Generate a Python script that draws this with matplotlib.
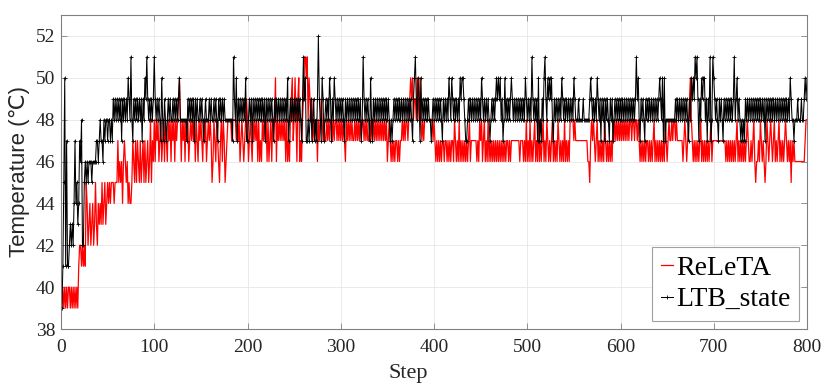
import numpy as np
import matplotlib
matplotlib.use("Agg")
import matplotlib.pyplot as plt


# ---------- data (one value per step) ----------

releta_001_200 = [
    39, 40, 39, 40, 39, 40, 39, 40, 40, 39, 40, 39, 40, 39, 40, 39, 40, 39, 41, 42,
    42, 41, 42, 41, 42, 41, 45, 44, 42, 43, 44, 42, 43, 44, 42, 43, 45, 43, 42, 44,
    43, 44, 43, 45, 43, 44, 45, 43, 44, 45, 44, 45, 44, 45, 45, 45, 44, 45, 45, 45,
    47, 45, 46, 45, 46, 44, 46, 47, 46, 45, 46, 44, 45, 44, 44, 45, 47, 46, 45, 47,
    45, 47, 46, 45, 47, 45, 46, 47, 45, 47, 45, 46, 47, 45, 46, 48, 45, 47, 46, 48,
    46, 48, 47, 48, 46, 47, 48, 46, 47, 48, 46, 48, 47, 46, 48, 47, 48, 46, 48, 47,
    48, 46, 48, 47, 48, 49, 50, 48, 46, 48, 47, 48, 46, 48, 47, 48, 46, 47, 48, 47,
    48, 47, 48, 46, 48, 47, 46, 48, 47, 48, 47, 46, 48, 47, 48, 46, 47, 48, 47, 48,
    47, 45, 46, 48, 47, 46, 48, 47, 46, 45, 47, 48, 46, 48, 47, 45, 46, 47, 48, 48,
    48, 48, 47, 48, 48, 48, 48, 47, 48, 47, 48, 46, 47, 48, 47, 46, 47, 48, 49, 48,
]
releta_201_400 = [
    46, 47, 48, 47, 46, 48, 47, 48, 47, 48, 46, 48, 46, 47, 46, 48, 47, 48, 47, 48,
    46, 48, 46, 47, 48, 46, 48, 47, 48, 50, 46, 48, 47, 48, 47, 48, 47, 48, 47, 48,
    46, 48, 46, 47, 46, 48, 49, 50, 47, 48, 50, 48, 46, 49, 50, 46, 47, 46, 48, 49,
    51, 51, 50, 51, 48, 50, 49, 48, 49, 47, 48, 47, 48, 48, 46, 48, 47, 48, 49, 48,
    47, 48, 47, 47, 48, 47, 48, 47, 48, 48, 47, 48, 47, 48, 48, 47, 48, 47, 48, 47,
    48, 47, 48, 47, 46, 48, 47, 48, 47, 48, 47, 48, 47, 47, 48, 47, 48, 47, 48, 47,
    48, 47, 48, 48, 47, 48, 47, 48, 47, 47, 48, 47, 48, 47, 48, 47, 48, 47, 48, 47,
    48, 47, 48, 47, 48, 47, 48, 47, 48, 46, 47, 48, 47, 46, 47, 46, 47, 46, 47, 47,
    46, 47, 46, 47, 47, 48, 47, 48, 47, 48, 48, 47, 48, 49, 50, 49, 50, 48, 49, 49,
    48, 50, 49, 48, 50, 48, 47, 48, 47, 48, 48, 48, 48, 48, 48, 48, 48, 48, 47, 48,
]
releta_401_600 = [
    47, 46, 47, 46, 47, 46, 47, 46, 47, 47, 46, 47, 47, 46, 47, 46, 47, 46, 47, 47,
    46, 48, 47, 46, 47, 46, 48, 46, 47, 46, 47, 46, 47, 46, 47, 46, 47, 48, 46, 47,
    47, 47, 47, 47, 47, 46, 47, 46, 48, 47, 48, 46, 47, 48, 46, 47, 46, 48, 46, 47,
    46, 47, 46, 47, 46, 47, 46, 47, 46, 47, 46, 47, 46, 47, 46, 47, 46, 47, 47, 46,
    47, 46, 47, 47, 47, 47, 47, 47, 47, 47, 47, 46, 47, 47, 47, 46, 47, 46, 48, 46,
    47, 46, 48, 46, 47, 46, 47, 48, 46, 47, 46, 48, 46, 47, 46, 47, 48, 46, 47, 46,
    48, 47, 46, 47, 46, 47, 48, 46, 47, 46, 47, 46, 48, 47, 46, 47, 46, 47, 46, 48,
    46, 47, 46, 47, 46, 48, 48, 48, 48, 47, 48, 47, 47, 47, 47, 47, 47, 47, 47, 47,
    47, 47, 47, 47, 46, 46, 45, 47, 48, 47, 48, 47, 46, 47, 48, 46, 47, 46, 47, 46,
    47, 46, 48, 47, 46, 47, 46, 47, 46, 47, 46, 48, 47, 48, 47, 48, 47, 48, 47, 48,
]
releta_601_800 = [
    47, 48, 47, 48, 47, 48, 47, 48, 47, 48, 48, 47, 48, 48, 47, 48, 48, 47, 48, 47,
    46, 47, 46, 47, 46, 47, 46, 47, 47, 46, 47, 46, 47, 46, 47, 48, 46, 47, 46, 47,
    46, 47, 46, 47, 46, 47, 46, 48, 47, 46, 47, 48, 47, 47, 48, 47, 48, 48, 47, 48,
    47, 47, 47, 47, 47, 47, 46, 47, 48, 47, 46, 47, 48, 49, 50, 48, 47, 46, 47, 46,
    47, 46, 47, 46, 47, 48, 46, 47, 46, 47, 46, 47, 46, 47, 46, 47, 48, 46, 47, 47,
    47, 47, 47, 47, 47, 47, 47, 47, 47, 47, 47, 47, 46, 47, 46, 47, 46, 47, 46, 47,
    46, 47, 46, 47, 48, 46, 47, 46, 47, 46, 47, 46, 47, 46, 47, 48, 47, 46, 46, 47,
    46, 47, 48, 46, 45, 46, 46, 47, 46, 48, 47, 46, 47, 46, 45, 46, 48, 47, 46, 47,
    48, 47, 46, 47, 48, 46, 47, 46, 47, 48, 46, 47, 46, 47, 46, 47, 48, 47, 46, 47,
    46, 47, 45, 47, 46, 47, 46, 46, 46, 46, 46, 46, 46, 46, 46, 46, 46, 47, 48, 48,
]

ltb_001_200 = [
    39, 41, 45, 50, 41, 47, 41, 41, 42, 43, 42, 43, 42, 44, 47, 44, 45, 43, 44, 47,
    46, 48, 42, 42, 45, 46, 45, 46, 45, 46, 46, 46, 45, 46, 46, 46, 46, 47, 47, 46,
    47, 48, 47, 47, 46, 48, 47, 48, 48, 47, 48, 48, 47, 48, 47, 49, 48, 49, 48, 49,
    48, 49, 48, 49, 47, 49, 48, 49, 48, 49, 48, 50, 49, 48, 51, 48, 47, 49, 48, 49,
    48, 49, 48, 49, 48, 49, 47, 49, 48, 50, 49, 51, 49, 48, 49, 48, 49, 48, 49, 51,
    49, 48, 49, 48, 49, 48, 47, 50, 48, 47, 49, 48, 47, 48, 49, 48, 49, 48, 48, 49,
    48, 49, 48, 49, 48, 49, 50, 48, 48, 48, 48, 48, 48, 48, 47, 49, 48, 49, 48, 49,
    48, 49, 47, 49, 48, 49, 48, 48, 49, 48, 49, 48, 47, 48, 49, 48, 48, 48, 49, 48,
    49, 48, 48, 49, 48, 49, 48, 47, 49, 48, 49, 48, 49, 48, 49, 48, 48, 48, 48, 48,
    48, 48, 48, 47, 51, 49, 48, 50, 47, 49, 48, 49, 48, 49, 48, 49, 48, 50, 47, 47,
]
ltb_201_400 = [
    48, 49, 48, 49, 47, 49, 48, 49, 48, 49, 48, 49, 48, 49, 48, 49, 48, 49, 47, 49,
    48, 49, 48, 49, 48, 49, 48, 47, 49, 48, 49, 48, 49, 48, 49, 48, 49, 48, 49, 48,
    49, 48, 50, 47, 48, 49, 48, 49, 48, 49, 48, 49, 48, 49, 48, 49, 48, 47, 49, 51,
    49, 50, 47, 47, 48, 47, 48, 49, 47, 48, 49, 47, 48, 47, 49, 52, 49, 48, 47, 50,
    49, 47, 48, 49, 48, 49, 48, 50, 49, 47, 49, 48, 50, 49, 48, 49, 48, 49, 48, 49,
    48, 49, 48, 47, 49, 48, 49, 48, 49, 48, 49, 48, 49, 48, 49, 48, 49, 48, 49, 48,
    49, 47, 48, 51, 49, 48, 49, 48, 49, 48, 47, 50, 48, 47, 49, 48, 49, 48, 49, 48,
    49, 48, 49, 48, 49, 48, 49, 48, 49, 48, 49, 48, 47, 48, 47, 48, 49, 48, 49, 48,
    49, 48, 49, 48, 49, 48, 49, 48, 49, 48, 49, 48, 49, 48, 49, 48, 47, 49, 50, 51,
    49, 48, 50, 49, 47, 50, 48, 49, 48, 49, 48, 49, 48, 49, 48, 48, 47, 48, 49, 48,
]
ltb_401_600 = [
    49, 48, 49, 48, 49, 48, 49, 48, 47, 49, 48, 49, 48, 49, 48, 50, 49, 48, 50, 49,
    48, 49, 48, 49, 48, 49, 48, 50, 49, 50, 50, 49, 48, 47, 47, 48, 49, 48, 49, 48,
    49, 48, 49, 48, 49, 48, 49, 48, 49, 48, 50, 49, 48, 49, 48, 49, 48, 49, 48, 47,
    48, 49, 48, 49, 48, 49, 50, 49, 50, 49, 50, 48, 49, 47, 48, 50, 48, 49, 48, 49,
    48, 49, 50, 49, 48, 49, 48, 49, 48, 49, 48, 49, 48, 49, 48, 49, 48, 50, 49, 48,
    49, 48, 49, 48, 51, 49, 48, 49, 48, 49, 47, 50, 47, 48, 47, 49, 48, 50, 51, 49,
    48, 50, 49, 50, 49, 50, 48, 47, 49, 48, 49, 48, 49, 48, 49, 48, 50, 49, 48, 49,
    48, 49, 48, 49, 48, 49, 48, 49, 48, 50, 49, 48, 48, 48, 49, 48, 48, 48, 48, 49,
    48, 48, 48, 48, 48, 48, 49, 50, 49, 48, 49, 48, 49, 48, 50, 49, 48, 49, 47, 49,
    48, 49, 47, 49, 48, 49, 48, 47, 49, 48, 49, 47, 48, 49, 48, 49, 48, 49, 48, 49,
]
ltb_601_800 = [
    48, 49, 48, 49, 48, 49, 48, 49, 48, 49, 48, 49, 48, 49, 48, 49, 51, 49, 50, 48,
    47, 49, 48, 49, 48, 47, 49, 48, 49, 48, 49, 48, 49, 48, 49, 48, 49, 48, 49, 48,
    49, 50, 49, 48, 50, 47, 50, 47, 48, 48, 48, 48, 48, 48, 48, 48, 48, 48, 49, 48,
    49, 48, 49, 48, 49, 48, 49, 48, 49, 48, 49, 48, 47, 49, 48, 50, 49, 50, 49, 51,
    50, 51, 49, 47, 49, 48, 50, 49, 50, 50, 48, 49, 47, 49, 48, 51, 47, 48, 51, 50,
    49, 48, 49, 48, 47, 49, 48, 49, 48, 47, 49, 48, 49, 48, 49, 48, 49, 48, 49, 48,
    49, 51, 48, 49, 50, 48, 49, 48, 47, 48, 47, 48, 47, 49, 48, 49, 48, 49, 48, 49,
    48, 49, 48, 49, 48, 49, 48, 49, 48, 49, 48, 49, 48, 49, 47, 49, 48, 49, 48, 49,
    48, 49, 48, 49, 48, 49, 48, 49, 48, 49, 48, 49, 48, 49, 48, 49, 48, 49, 48, 49,
    48, 50, 49, 48, 48, 47, 48, 48, 48, 49, 48, 48, 48, 49, 48, 48, 49, 50, 49, 50,
]

releta = releta_001_200 + releta_201_400 + releta_401_600 + releta_601_800
ltb_state = ltb_001_200 + ltb_201_400 + ltb_401_600 + ltb_601_800

x_ticks = [0, 100, 200, 300, 400, 500, 600, 700, 800]
y_ticks = [38, 40, 42, 44, 46, 48, 50, 52]


# ---------- plotting ----------

serif = ["Liberation Serif", "DejaVu Serif"]
sans = ["Liberation Sans", "DejaVu Sans"]
ink = "#262626"

fig = plt.figure(figsize=(8.3, 3.85), dpi=100)
ax = fig.add_axes([61 / 830, 1 - 329 / 385, (807 - 61) / 830, (329 - 15) / 385])

steps_r = np.arange(1, len(releta) + 1)
steps_b = np.arange(1, len(ltb_state) + 1)
ax.plot(steps_r, releta, color="red", lw=0.9, label="ReLeTA")
ax.plot(steps_b, ltb_state, color="black", lw=0.75, marker="+",
        markersize=2.2, markeredgewidth=0.6, label="LTB_state")

ax.set_xlim(0, 800)
ax.set_ylim(38, 53)
ax.set_xticks(x_ticks)
ax.set_yticks(y_ticks)
ax.grid(True, color="#e6e6e6", lw=0.6)
ax.set_axisbelow(True)

ax.tick_params(direction="in", top=True, right=True, length=4, width=0.6,
               color="#808080", labelcolor=ink, labelsize=14)
ax.tick_params(axis="x", pad=7)
ax.tick_params(axis="y", pad=4)
for lab in ax.get_xticklabels() + ax.get_yticklabels():
    lab.set_family(serif)
for sp in ax.spines.values():
    sp.set_color("#808080")
    sp.set_linewidth(0.8)

ax.set_xlabel("Step", family=serif, fontsize=16, color=ink)
ax.xaxis.set_label_coords(0.465, -0.11)
ax.set_ylabel("Temperature (\u2103)", family=sans, fontsize=16, color=ink, labelpad=4)

leg = ax.legend(loc="lower right", prop={"family": serif, "size": 20},
                handlelength=0.45, handletextpad=0.1, borderpad=0.3,
                labelspacing=0.22, borderaxespad=0.3, fancybox=False,
                framealpha=1, edgecolor="#a0a0a0")
leg.get_frame().set_linewidth(0.8)

fig.savefig("out.png", dpi=100)
